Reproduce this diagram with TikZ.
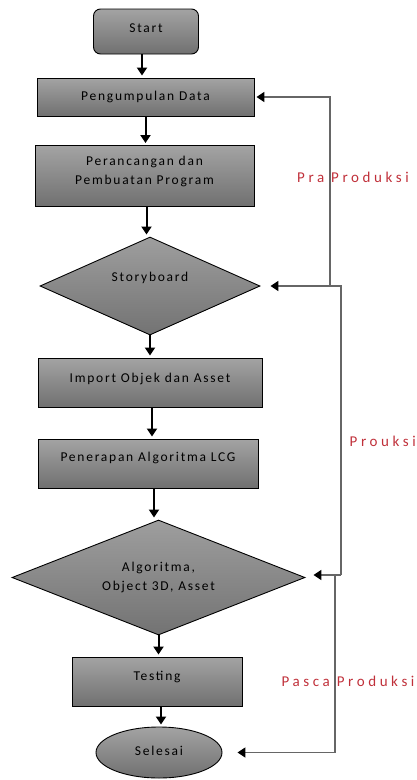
\documentclass[tikz,border=0pt]{standalone}
\usepackage{fontspec}
\setmainfont{Carlito}[LetterSpace=13]
\usetikzlibrary{shapes.geometric,arrows.meta}
\definecolor{lblred}{HTML}{C0303A}
\tikzset{
  txt/.style={font=\fontsize{13.5}{19}\selectfont},
  box/.style={draw=black, line width=0.9pt, top color=black!36, bottom color=black!56, inner sep=2pt, align=center, txt},
  dia/.style={diamond, aspect=2.6, draw=black, line width=0.9pt, top color=black!38, bottom color=black!55, inner sep=0pt, align=center, txt},
  flow/.style={line width=2pt, -{Triangle[length=8pt,width=10pt]}, shorten >=2pt},
  back/.style={draw=black!60, line width=1.6pt, line join=miter, -{Triangle[length=8pt,width=10pt,color=black]}},
  lbl/.style={text=lblred, font=\fontsize{15}{17}\selectfont\addfontfeature{LetterSpace=24}},
}
\begin{document}
\begin{tikzpicture}[x=1pt,y=-1pt]
\useasboundingbox (0,0) rectangle (417,780);
\node[box, rounded corners=7pt, minimum width=105pt, minimum height=45pt] (start) at (146,31.5) {\raisebox{0pt}[\height][\dimexpr\depth+6pt]{Start}};
\node[box, minimum width=217pt, minimum height=38pt] (p1) at (145.5,97) {Pengumpulan Data};
\node[box, minimum width=219pt, minimum height=61pt] (p2) at (144.5,176) {Perancangan dan\\Pembuatan Program\\[-8pt]};
\node[dia, minimum width=220pt, minimum height=98pt] (sb) at (150,286) {Storyboard\\[0pt]};
\node[box, minimum width=224pt, minimum height=49pt] (imp) at (150,382.5) {\raisebox{0pt}[\height][\dimexpr\depth+8pt]{Import Objek dan Asset}};
\node[box, minimum width=220pt, minimum height=49pt] (pen) at (148,463.5) {\raisebox{0pt}[\height][\dimexpr\depth+12pt]{Penerapan Algoritma LCG}};
\node[dia, minimum width=293pt, minimum height=115pt] (alg) at (158.5,577.5) {Algoritma,\\Object 3D, Asset};
\node[box, minimum width=170pt, minimum height=49pt] (test) at (157,681.5) {\raisebox{0pt}[\height][\dimexpr\depth+10pt]{Testing}};
\node[ellipse, draw=black, line width=0.9pt, top color=black!36, bottom color=black!56, minimum width=126pt, minimum height=51pt, inner sep=0pt, txt] (sel) at (159,752.5) {\raisebox{0pt}[\height][\dimexpr\depth+4pt]{Selesai}};

\draw[flow] ([xshift=-4pt]start.south) -- ([xshift=-4pt]start.south |- p1.north);
\draw[flow] (p1.south) -- (p1.south |- p2.north);
\draw[flow] ([xshift=2pt]p2.south) -- ([xshift=2pt]p2.south |- sb.north);
\draw[flow] (sb.south) -- (sb.south |- imp.north);
\draw[flow] ([xshift=2pt]imp.south) -- ([xshift=2pt]imp.south |- pen.north);
\draw[flow] ([xshift=6pt]pen.south) -- ([xshift=6pt]pen.south |- alg.north);
\draw[flow] (alg.south) -- (alg.south |- test.north);
\draw[flow] ([xshift=4pt]test.south) -- ([xshift=4pt]test.south |- sel.north);

\node[lbl] (pra) at (353,177) {Pra Produksi};
\node[lbl, anchor=east, inner sep=1pt] (prou) at (417,441) {Prouksi};
\node[lbl] (pasca) at (348,681) {Pasca Produksi};

\coordinate (fa) at (330,286);
\coordinate (fb) at (341,575);
\coordinate (fc) at (335,575);
\draw[back, shorten >=2pt] (fb |- fa) -- (fa) |- (p1.east);
\draw[back, shorten >=10pt] (fb) |- (sb.east);
\draw[back, shorten >=8pt] (fb) -- (alg.east |- fb);
\draw[back, shorten >=15pt] (fc) |- (sel.east);
\end{tikzpicture}
\end{document}
